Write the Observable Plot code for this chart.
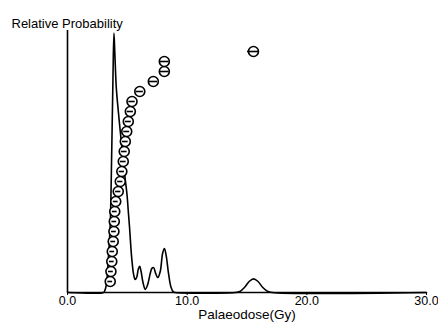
<!DOCTYPE html>
<html>
<head>
<meta charset="utf-8">
<script src="https://cdn.jsdelivr.net/npm/d3@7"></script>
<script src="https://cdn.jsdelivr.net/npm/@observablehq/plot@0.6"></script>
<style>
  html, body { margin: 0; padding: 0; background: white; }
</style>
</head>
<body>
<div id="chart"></div>
<script>
// Probability density curve (dose Gy, relative probability)
const densityDose = [0, 3.0, 3.1, 3.25, 3.4, 3.57, 3.7, 3.8, 3.88, 3.95, 4.08, 4.25, 4.41, 4.55, 4.69, 4.83, 4.97, 5.08, 5.19, 5.3, 5.39, 5.52, 5.65, 5.78, 5.92, 6.03, 6.15, 6.3, 6.5, 6.7, 6.9, 7.05, 7.2, 7.35, 7.55, 7.75, 7.95, 8.1, 8.25, 8.45, 8.65, 8.85, 9.0, 14.0, 14.4, 14.8, 15.2, 15.55, 15.9, 16.3, 16.7, 17.1, 30];
const densityProb = [0, 0, 0.005, 0.03, 0.12, 0.26, 0.55, 0.82, 0.99, 0.92, 0.78, 0.69, 0.615, 0.55, 0.485, 0.43, 0.375, 0.31, 0.245, 0.17, 0.12, 0.07, 0.05, 0.058, 0.09, 0.1, 0.08, 0.04, 0.012, 0.03, 0.07, 0.092, 0.095, 0.075, 0.057, 0.08, 0.15, 0.168, 0.14, 0.07, 0.02, 0.002, 0, 0, 0.004, 0.02, 0.043, 0.052, 0.043, 0.02, 0.005, 0, 0];

// Individual aliquot palaeodoses (sorted, Gy) and their errors
const doses = [3.57, 3.63, 3.70, 3.74, 3.82, 3.88, 3.91, 3.95, 4.03, 4.24, 4.41, 4.54, 4.66, 4.74, 4.83, 4.95, 5.08, 5.25, 5.39, 6.04, 7.17, 8.09, 8.09, 15.54];
const doseErrors = [0.2, 0.2, 0.2, 0.2, 0.2, 0.2, 0.2, 0.2, 0.2, 0.22, 0.22, 0.22, 0.24, 0.24, 0.24, 0.25, 0.25, 0.26, 0.27, 0.3, 0.35, 0.4, 0.4, 0.5];

const xTicks = [0, 10, 20, 30];
const xLabel = "Palaeodose(Gy)";
const yLabel = "Relative Probability";

const density = densityDose.map((x, i) => ({x, y: densityProb[i]}));
// rank positions of the points, expressed on the relative-probability axis
const n = doses.length;
const points = doses.map((x, i) => ({x, e: doseErrors[i], y: (i + 1.1) / (n + 2.2)}));

const chart = Plot.plot({
  width: 438,
  height: 329,
  marginLeft: 67,
  marginRight: 12,
  marginTop: 30,
  marginBottom: 37,
  style: {fontFamily: "Liberation Sans, Arial, sans-serif", fontSize: "12px", color: "black", background: "white"},
  x: {domain: [0, 30]},
  y: {domain: [0, 1], axis: null},
  marks: [
    Plot.line(density, {x: "x", y: "y", stroke: "black", strokeWidth: 1.6, curve: "catmull-rom"}),
    Plot.dot(points, {x: "x", y: "y", r: 5, stroke: "black", strokeWidth: 1.6, fill: "white"}),
    Plot.ruleY(points, {y: "y", x1: d => d.x - d.e, x2: d => d.x + d.e, stroke: "black", strokeWidth: 1.6}),
    Plot.ruleY([0], {stroke: "black", strokeWidth: 1.6}),
    Plot.ruleX([0], {stroke: "black", strokeWidth: 1.6}),
    Plot.axisX({ticks: xTicks, tickFormat: d3.format(".1f"), tickSize: 3, tickPadding: 1, label: null, fontSize: 12.5}),
    Plot.text([xLabel], {frameAnchor: "bottom", dy: 26, fontSize: 13.5}),
    Plot.text([yLabel], {frameAnchor: "top-left", dx: -56, dy: -12, textAnchor: "start", fontSize: 13})
  ]
});
document.getElementById("chart").appendChild(chart);
</script>
</body>
</html>
